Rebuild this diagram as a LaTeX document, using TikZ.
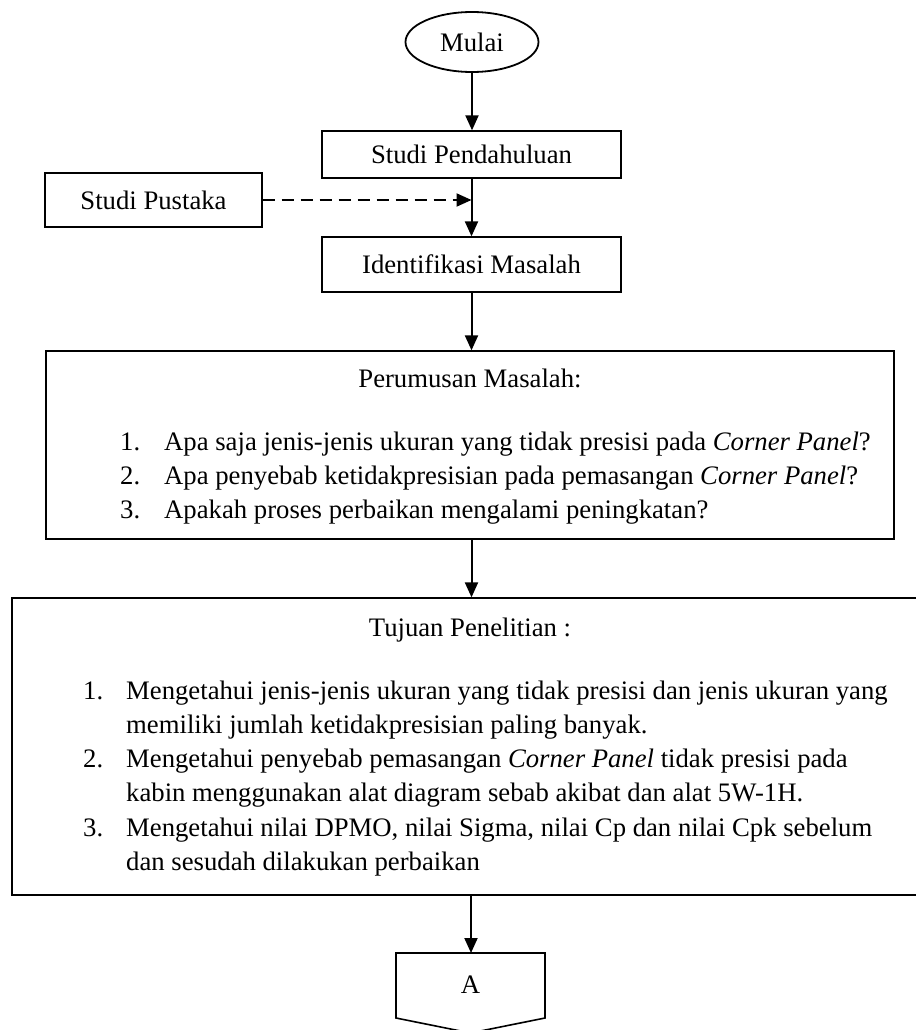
\documentclass[tikz,border=0pt]{standalone}
\usepackage{fontspec}
\setmainfont{Liberation Serif}
\usetikzlibrary{arrows.meta,shapes.geometric}
\begin{document}
\begin{tikzpicture}[x=1pt,y=-1pt,
  every node/.style={font=\fontsize{26.7}{32}\selectfont},
  box/.style={draw,line width=1.3pt,rectangle,inner sep=0pt},
  arr/.style={line width=2pt,-{Triangle[length=15pt,width=13pt]}},
  txt/.style={anchor=base west,inner sep=0pt},
  ttl/.style={anchor=base,inner sep=0pt}]
\useasboundingbox (0,0) rectangle (915,1030);
% start
\node[draw,ellipse,line width=1.8pt,minimum width=133pt,minimum height=60pt,inner sep=0pt] (mulai) at (472,42) {Mulai};
\node[box,minimum width=299pt,minimum height=47pt] (pend) at (471.5,154.5) {Studi Pendahuluan};
\node[box,minimum width=217pt,minimum height=54pt] (pustaka) at (153.5,200) {Studi Pustaka};
\node[box,minimum width=299pt,minimum height=55pt] (ident) at (471.5,264.5) {Identifikasi Masalah};
\node[box,minimum width=848pt,minimum height=188pt] (rumus) at (470,445) {};
\node[box,minimum width=916pt,minimum height=297pt] (tujuan) at (470,746.5) {};
% off-page connector
\coordinate (atop) at (471,953);
\draw[line width=1.6pt] (396,953) -- (545,953) -- (545,1018) -- (470.5,1033) -- (396,1018) -- cycle;
\node (a) at (470.5,985) {A};
% text of Perumusan
\node[ttl] (rt) at (470,387) {Perumusan Masalah:};
\node[txt] (r1n) at (120,450) {1.};
\node[txt] (r1) at (164,450) {Apa saja jenis-jenis ukuran yang tidak presisi pada \textit{Corner Panel}?};
\node[txt] (r2n) at (120,484) {2.};
\node[txt] (r2) at (164,484) {Apa penyebab ketidakpresisian pada pemasangan \textit{Corner Panel}?};
\node[txt] (r3n) at (120,518) {3.};
\node[txt] (r3) at (164,518) {Apakah proses perbaikan mengalami peningkatan?};
% text of Tujuan
\node[ttl] (tt) at (470,636) {Tujuan Penelitian :};
\node[txt] (t1n) at (83,699) {1.};
\node[txt] (t1a) at (126,699) {Mengetahui jenis-jenis ukuran yang tidak presisi dan jenis ukuran yang};
\node[txt] (t1b) at (126,733) {memiliki jumlah ketidakpresisian paling banyak.};
\node[txt] (t2n) at (83,767.5) {2.};
\node[txt] (t2a) at (126,767.5) {Mengetahui penyebab pemasangan \textit{Corner Panel} tidak presisi pada};
\node[txt] (t2b) at (126,801.5) {kabin menggunakan alat diagram sebab akibat dan alat 5W-1H.};
\node[txt] (t3n) at (83,836) {3.};
\node[txt] (t3a) at (126,836) {Mengetahui nilai DPMO, nilai Sigma, nilai Cp dan nilai Cpk sebelum};
\node[txt] (t3b) at (126,870) {dan sesudah dilakukan perbaikan};
% connectors
\draw[arr] (mulai.south) -- (mulai.south |- pend.north);
\draw[arr] (pend.south) -- (ident.north);
\draw[arr,dash pattern=on 12pt off 7pt] (pustaka.east) -- (pustaka.east -| pend.south);
\draw[arr] (ident.south) -- (ident.south |- rumus.north);
\draw[arr] (ident.south |- rumus.south) -- (ident.south |- tujuan.north);
\draw[arr] (atop |- tujuan.south) -- (atop);
\end{tikzpicture}
\end{document}
